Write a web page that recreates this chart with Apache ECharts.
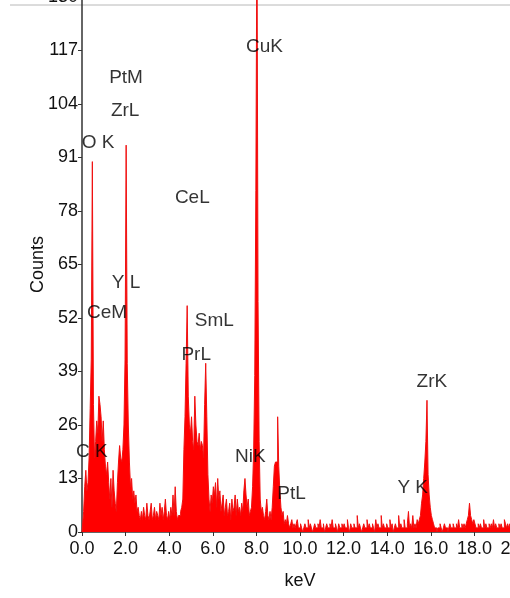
<!DOCTYPE html>
<html>
<head>
<meta charset="utf-8">
<script src="https://cdn.jsdelivr.net/npm/echarts@6/dist/echarts.min.js"></script>
<style>
  html, body { margin: 0; padding: 0; background: #fff; }
  #spectrum { width: 510px; height: 598px; }
</style>
</head>
<body>
<div id="spectrum"></div>
<script>
// channel width in keV, spectrum starts at 0 keV
var channelWidth = 0.05

// counts per channel, 0.00 - 3.95 keV
var countsLow = [
  0, 0, 5, 11, 15, 10, 12, 18, 30, 42,
  90, 31, 18, 22, 27, 24, 33, 31, 28, 22,
  27, 20, 16, 14, 17, 12, 8, 13, 6, 15,
  10, 7, 5, 12, 17, 21, 18, 17, 20, 26,
  42, 94, 41, 26, 17, 11, 13, 8, 10, 7,
  9, 5, 6, 4, 3, 5, 3, 6, 4, 3,
  7, 4, 3, 5, 7, 3, 4, 6, 3, 5,
  4, 3, 7, 4, 6, 3, 5, 8, 4, 3
]

// 4.00 - 9.95 keV
var countsMid = [
  5, 3, 6, 4, 9, 4, 11, 5, 3, 4,
  4, 5, 6, 8, 20, 28, 41, 55, 33, 26,
  24, 28, 22, 20, 33, 26, 22, 21, 24, 20,
  22, 21, 18, 31, 41, 28, 14, 8, 5, 9,
  7, 11, 9, 12, 6, 13, 8, 10, 5, 7,
  9, 4, 6, 8, 4, 5, 7, 3, 8, 5,
  6, 9, 4, 8, 5, 6, 4, 7, 5, 10,
  13, 9, 6, 8, 4, 5, 6, 11, 20, 38,
  83, 150, 56, 22, 8, 5, 6, 4, 3, 5,
  8, 4, 3, 5, 3, 6, 11, 16, 17, 17,
  28, 16, 10, 6, 4, 5, 2, 3, 2, 4,
  2, 1, 2, 3, 1, 2, 1, 2, 3, 1
]

// 10.00 - 19.95 keV
var countsHigh = [
  1, 2, 1, 0, 1, 2, 1, 1, 3, 1, 2, 1, 0, 1, 2, 1, 1, 2, 1, 3,
  1, 1, 2, 0, 1, 2, 1, 1, 2, 1, 3, 1, 1, 2, 1, 0, 2, 1, 1, 2,
  1, 2, 1, 1, 3, 1, 0, 2, 1, 1, 2, 1, 1, 4, 1, 2, 1, 0, 1, 2,
  1, 1, 3, 1, 2, 1, 1, 2, 1, 0, 3, 1, 2, 1, 1, 4, 1, 2, 1, 1,
  2, 1, 1, 3, 1, 2, 0, 1, 2, 1, 1, 4, 1, 2, 1, 1, 3, 1, 1, 2,
  5, 1, 2, 1, 4, 1, 2, 1, 3, 2, 3, 4, 7, 9, 13, 17, 22, 32, 14, 9,
  6, 4, 3, 2, 1, 1, 0, 1, 1, 2, 1, 0, 1, 2, 1, 1, 0, 1, 2, 1,
  1, 2, 1, 1, 2, 1, 3, 1, 1, 2, 1, 2, 1, 2, 3, 4, 7, 4, 3, 2,
  3, 2, 1, 1, 2, 1, 2, 1, 1, 3, 1, 2, 1, 1, 2, 1, 2, 1, 3, 1,
  2, 1, 1, 2, 1, 2, 1, 1, 3, 2, 1, 2, 1, 2, 1, 1, 3, 1, 2, 1
]

// peak labels: [text, keV, counts] where the label sits
var peakNames = ['O K', 'PtM', 'ZrL', 'CeL', 'CuK', 'Y L', 'CeM', 'SmL', 'PrL', 'C K', 'NiK', 'PtL', 'Y K', 'ZrK']
var peakKeV = [0.74, 2.02, 1.98, 5.06, 8.37, 2.02, 1.15, 6.07, 5.24, 0.45, 7.72, 9.61, 15.17, 16.05]
var peakCounts = [94.5, 110.3, 102.3, 81.2, 117.9, 60.5, 53.2, 51.3, 43.0, 19.4, 18.2, 9.2, 10.7, 36.5]

var xTicks = { min: 0, max: 20, interval: 2 }
var yTicks = { min: 0, max: 130, interval: 13 }

var counts = countsLow.concat(countsMid, countsHigh)
var spectrum = counts.map(function (c, i) {
  return [+(i * channelWidth).toFixed(2), c]
})
var peaks = peakNames.map(function (n, i) {
  return [peakKeV[i], peakCounts[i], n]
})

var textFont = '"Liberation Sans", Arial, sans-serif'

var myChart = echarts.init(document.getElementById('spectrum'))
var option = {
  animation: false,
  backgroundColor: '#fff',
  grid: {
    left: 82,
    right: -8,
    top: -3,
    bottom: 66,
    outerBoundsMode: 'none',
    containLabel: false
  },
  xAxis: {
    type: 'value',
    min: xTicks.min,
    max: xTicks.max,
    interval: xTicks.interval,
    offset: 4,
    name: 'keV',
    nameLocation: 'middle',
    nameGap: 36,
    nameMoveOverlap: false,
    nameTextStyle: { color: '#111', fontSize: 18, fontFamily: textFont },
    axisLine: { lineStyle: { color: '#333', width: 1.5 } },
    axisTick: { length: 4, lineStyle: { color: '#333' } },
    axisLabel: {
      color: '#111',
      fontSize: 18,
      fontFamily: textFont,
      margin: 4,
      formatter: function (v) { return v.toFixed(1) }
    },
    splitLine: { show: false }
  },
  yAxis: {
    type: 'value',
    min: yTicks.min,
    max: yTicks.max,
    interval: yTicks.interval,
    name: 'Counts',
    nameLocation: 'middle',
    nameGap: 35,
    nameMoveOverlap: false,
    nameTextStyle: { color: '#111', fontSize: 18, fontFamily: textFont },
    axisLine: { show: true, lineStyle: { color: '#333', width: 1.5 } },
    axisTick: { show: true, length: 4, lineStyle: { color: '#333' } },
    axisLabel: { color: '#111', fontSize: 18, fontFamily: textFont, margin: 4 },
    splitLine: { show: false }
  },
  graphic: [{
    type: 'line',
    shape: { x1: 10, y1: 5, x2: 510, y2: 5 },
    style: { stroke: '#b8b8b8', lineWidth: 1 },
    z: 0
  }],
  series: [
    {
      name: 'spectrum',
      type: 'line',
      step: 'middle',
      data: spectrum,
      showSymbol: false,
      clip: true,
      lineStyle: { color: '#f01010', width: 1 },
      areaStyle: { color: '#ff0000', opacity: 1 }
    },
    {
      name: 'peaks',
      type: 'scatter',
      data: peaks,
      symbolSize: 1,
      itemStyle: { color: 'rgba(0,0,0,0)' },
      label: {
        show: true,
        position: 'inside',
        color: '#000',
        fontSize: 19,
        fontFamily: textFont,
        formatter: function (p) { return p.data[2] }
      },
      labelLayout: { hideOverlap: false },
      z: 5
    }
  ]
}
myChart.setOption(option)
</script>
</body>
</html>
